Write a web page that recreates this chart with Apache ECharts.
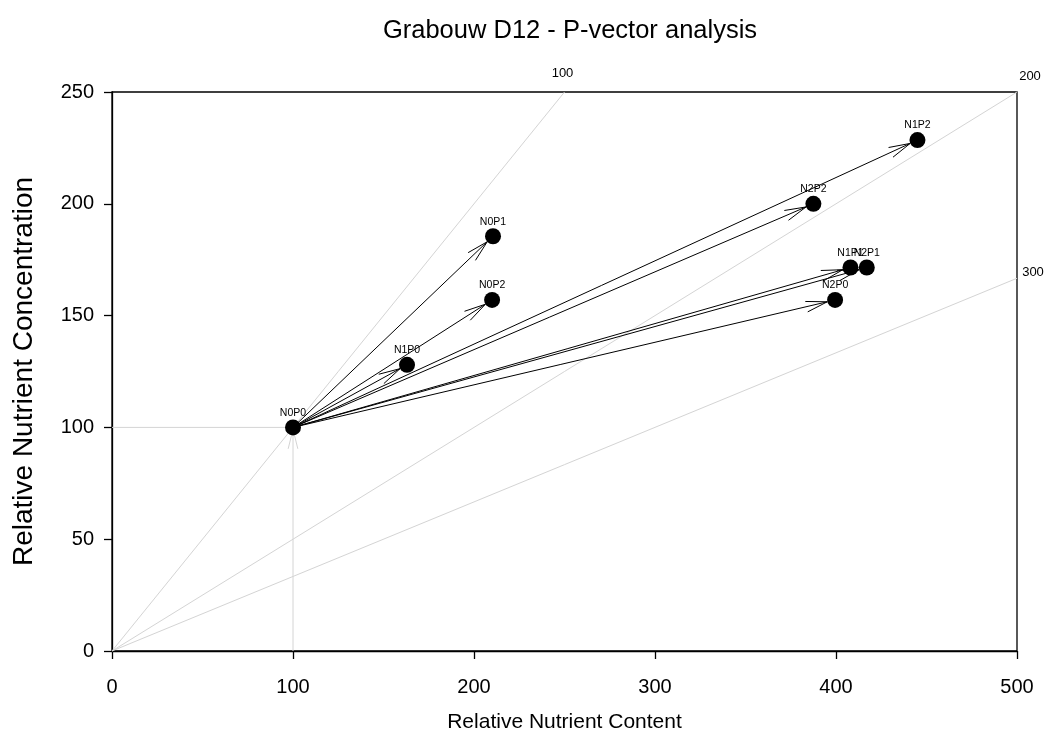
<!DOCTYPE html>
<html>
<head>
<meta charset="utf-8">
<script src="https://cdn.jsdelivr.net/npm/echarts@6/dist/echarts.min.js"></script>
<style>html,body{margin:0;padding:0;background:#fff;}#c{width:1049px;height:745px;}</style>
</head>
<body>
<div id="c"></div>
<script>
// Data
var pointNames = ['N0P0','N0P1','N0P2','N1P0','N1P1','N1P2','N2P0','N2P1','N2P2'];
var contentX = [100, 210.5, 210, 163, 408, 445, 399.5, 417, 387.5];
var concY = [100, 185.5, 157, 128, 171.5, 228.5, 157, 171.5, 200];
var refLineLabels = ['100', '200', '300'];
var refLineEndX = [250, 500, 500];
var refLineEndY = [250, 250, 166.7];
var xTicks = [0, 100, 200, 300, 400, 500];
var yTicks = [0, 50, 100, 150, 200, 250];

var chart = echarts.init(document.getElementById('c'));
var font = 'Liberation Sans, Arial, sans-serif';

var scatterData = pointNames.map(function (n, i) { return { name: n, value: [contentX[i], concY[i]] }; });
var arrowData = [];
for (var i = 1; i < pointNames.length; i++) arrowData.push([contentX[0], concY[0], contentX[i], concY[i]]);
var refData = refLineLabels.map(function (l, i) { return [0, 0, refLineEndX[i], refLineEndY[i], l]; });
var guideData = [[contentX[0], 0, contentX[0], concY[0], 1], [0, concY[0], contentX[0], concY[0], 0]];

var MR = 8;
function arrowShape(p0, p1, color, headLen, withHead, shorten) {
  var dx = p1[0] - p0[0], dy = p1[1] - p0[1];
  var L = Math.sqrt(dx * dx + dy * dy);
  var ux = dx / L, uy = dy / L;
  var tip = [p1[0] - ux * shorten, p1[1] - uy * shorten];
  var children = [{
    type: 'line', shape: { x1: p0[0], y1: p0[1], x2: tip[0], y2: tip[1] },
    style: { stroke: color, lineWidth: 1 }
  }];
  if (withHead) {
    var a = 14 * Math.PI / 180;
    [a, -a].forEach(function (ang) {
      var c = Math.cos(ang), s = Math.sin(ang);
      var bx = -(ux * c - uy * s), by = -(ux * s + uy * c);
      children.push({
        type: 'line', shape: { x1: tip[0], y1: tip[1], x2: tip[0] + bx * headLen, y2: tip[1] + by * headLen },
        style: { stroke: color, lineWidth: 1 }
      });
    });
  }
  return children;
}

var labelOffsets = [[-2, -19], [13, -16], [16, -6]];

var option = {
  animation: false,
  backgroundColor: '#fff',
  title: {
    text: 'Grabouw D12 - P-vector analysis',
    left: 565, top: 13, textAlign: 'center',
    textStyle: { fontFamily: font, fontSize: 25.5, fontWeight: 'normal', color: '#000' }
  },
  grid: { left: 112, right: 32, top: 92, bottom: 94, show: true, borderColor: '#000', borderWidth: 1.3, backgroundColor: 'transparent' },
  xAxis: {
    type: 'value', min: 0, max: 500, interval: 100,
    name: 'Relative Nutrient Content', nameLocation: 'middle', nameGap: 61,
    nameTextStyle: { fontFamily: font, fontSize: 21, color: '#000' },
    axisLine: { show: true, lineStyle: { color: '#000', width: 1.3 } },
    axisTick: { show: true, length: 8, lineStyle: { color: '#000', width: 1.3 } },
    axisLabel: { fontFamily: font, fontSize: 20, color: '#000', margin: 26, formatter: function (v) { return xTicks.indexOf(v) >= 0 ? String(v) : ''; } },
    splitLine: { show: false }
  },
  yAxis: {
    type: 'value', min: 0, max: 250, interval: 50,
    name: 'Relative Nutrient Concentration', nameLocation: 'middle', nameGap: 74, nameRotate: 90,
    nameTextStyle: { fontFamily: font, fontSize: 28, color: '#000' },
    axisLine: { show: true, lineStyle: { color: '#000', width: 1.3 } },
    axisTick: { show: true, length: 8, lineStyle: { color: '#000', width: 1.3 } },
    axisLabel: { fontFamily: font, fontSize: 20, color: '#000', margin: 18, formatter: function (v) { return yTicks.indexOf(v) >= 0 ? String(v) : ''; } },
    splitLine: { show: false }
  },
  series: [
    {
      type: 'custom', name: 'ref', data: refData, clip: false, z: 1,
      encode: { x: [0, 2], y: [1, 3] },
      renderItem: function (params, api) {
        var p0 = api.coord([api.value(0), api.value(1)]);
        var p1 = api.coord([api.value(2), api.value(3)]);
        var off = labelOffsets[params.dataIndex];
        return {
          type: 'group', children: [
            { type: 'line', shape: { x1: p0[0], y1: p0[1], x2: p1[0], y2: p1[1] }, style: { stroke: '#d4d4d4', lineWidth: 1 } },
            { type: 'text', x: p1[0] + off[0], y: p1[1] + off[1], style: { text: refData[params.dataIndex][4], font: '13px ' + font, fill: '#000', textAlign: 'center', textVerticalAlign: 'middle' } }
          ]
        };
      }
    },
    {
      type: 'custom', name: 'guides', data: guideData, clip: false, z: 2,
      encode: { x: [0, 2], y: [1, 3] },
      renderItem: function (params, api) {
        var p0 = api.coord([api.value(0), api.value(1)]);
        var p1 = api.coord([api.value(2), api.value(3)]);
        return { type: 'group', children: arrowShape(p0, p1, '#d4d4d4', 20, api.value(4) === 1, 2) };
      }
    },
    {
      type: 'custom', name: 'vectors', data: arrowData, clip: false, z: 3,
      encode: { x: [0, 2], y: [1, 3] },
      renderItem: function (params, api) {
        var p0 = api.coord([api.value(0), api.value(1)]);
        var p1 = api.coord([api.value(2), api.value(3)]);
        return { type: 'group', children: arrowShape(p0, p1, '#000', 22, true, MR) };
      }
    },
    {
      type: 'scatter', name: 'points', data: scatterData, z: 5,
      symbol: 'circle', symbolSize: 16,
      itemStyle: { color: '#000', opacity: 1 },
      emphasis: { disabled: true },
      label: {
        show: true, position: 'top', distance: 1,
        formatter: function (p) { return p.name; },
        fontFamily: font, fontSize: 10.5, color: '#000'
      }
    }
  ]
};
chart.setOption(option);
</script>
</body>
</html>
